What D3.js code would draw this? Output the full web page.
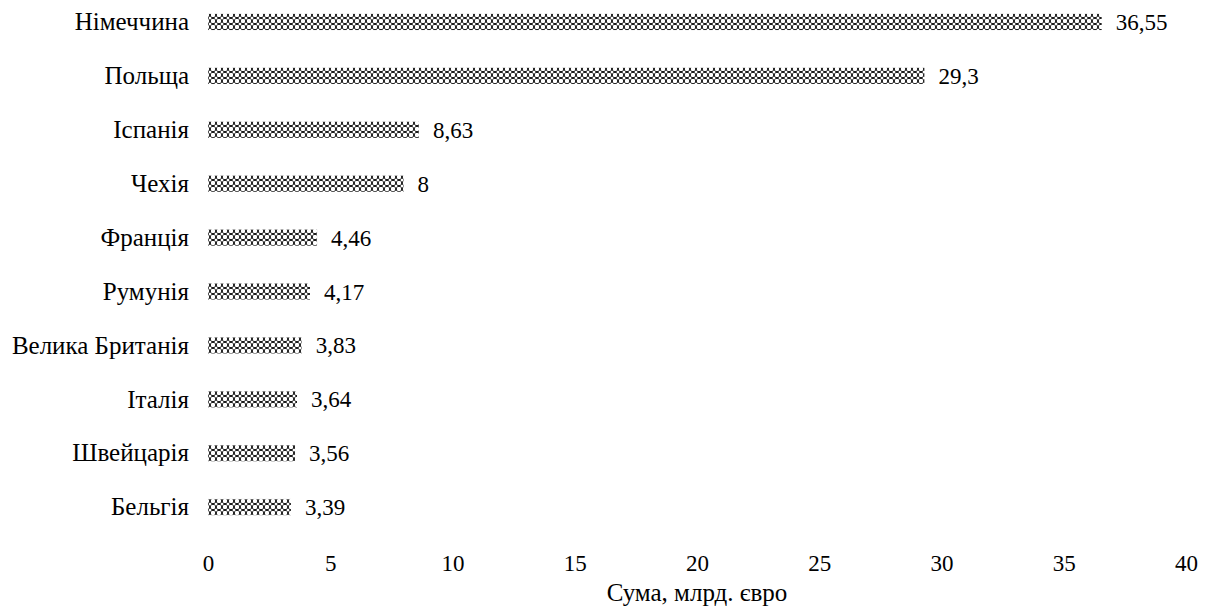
<!DOCTYPE html>
<html><head><meta charset="utf-8">
<script src="https://cdn.jsdelivr.net/npm/d3@7"></script>
<style>body{margin:0;background:#fff}svg{display:block}</style>
</head><body>
<svg id="c" width="1211" height="610"></svg>
<script>
const countries = ["Німеччина","Польща","Іспанія","Чехія","Франція","Румунія","Велика Британія","Італія","Швейцарія","Бельгія"];
const values = [36.55,29.3,8.63,8,4.46,4.17,3.83,3.64,3.56,3.39];
const valueLabels = ["36,55","29,3","8,63","8","4,46","4,17","3,83","3,64","3,56","3,39"];
const xTicks = [0,5,10,15,20,25,30,35,40];
const axisTitle = "Сума, млрд. євро";

const FONT = "'Liberation Serif', 'Times New Roman', serif";
const FS = 23, FS_CYR = 25;
const svg = d3.select("#c");
const defs = svg.append("defs");
const pat = defs.append("pattern").attr("id","hatch").attr("patternUnits","userSpaceOnUse").attr("width",6).attr("height",6);
pat.append("rect").attr("width",6).attr("height",6).attr("fill","#000");
pat.append("circle").attr("cx",3).attr("cy",3).attr("r",2.3).attr("fill","#fff");
[[0,0],[6,0],[0,6],[6,6]].forEach(([cx,cy])=>pat.append("circle").attr("cx",cx).attr("cy",cy).attr("r",1.5).attr("fill","#fff"));

const x = d3.scaleLinear().domain([0,40]).range([208,1186]);
const y = d3.scaleBand().domain(countries).range([-5,534]).paddingInner(0.7).paddingOuter(0.35);

svg.selectAll("rect.bar").data(countries).join("rect").attr("class","bar")
  .attr("x",x(0)).attr("y",d=>y(d)).attr("height",y.bandwidth())
  .attr("width",(d,i)=>x(values[i])-x(0)).attr("fill","url(#hatch)");

svg.selectAll("text.cat").data(countries).join("text").attr("class","cat")
  .attr("x",189).attr("y",d=>y(d)+y.bandwidth()/2).attr("dy","0.33em")
  .attr("text-anchor","end").style("font-family",FONT).attr("font-size",FS_CYR).text(d=>d);

svg.selectAll("text.val").data(countries).join("text").attr("class","val")
  .attr("x",(d,i)=>x(values[i])+14).attr("y",d=>y(d)+y.bandwidth()/2).attr("dy","0.35em")
  .style("font-family",FONT).attr("font-size",FS).text((d,i)=>valueLabels[i]);

const ax = svg.append("g").attr("transform","translate(0,552)")
  .call(d3.axisBottom(x).tickValues(xTicks).tickSize(0).tickFormat(d3.format("d")));
ax.select(".domain").remove();
ax.selectAll("text").style("font-family",FONT).attr("font-size",FS).attr("fill","#000");

svg.append("text").attr("x",697).attr("y",601).attr("text-anchor","middle")
  .style("font-family",FONT).attr("font-size",FS_CYR).text(axisTitle);
</script>
</body></html>
